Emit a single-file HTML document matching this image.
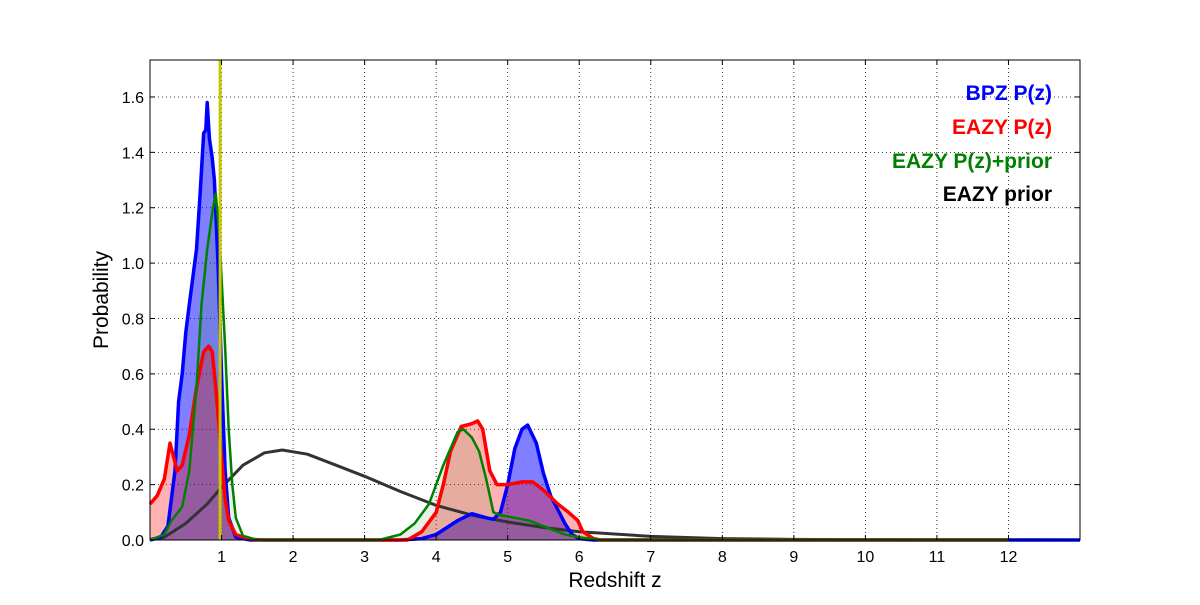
<!DOCTYPE html>
<html><head><meta charset="utf-8"><style>
body{margin:0;background:#fff;}
svg text{font-family:"Liberation Sans","DejaVu Sans",sans-serif;}
</style></head><body>
<svg id="chart" width="1200" height="600" viewBox="0 0 1200 600" xmlns="http://www.w3.org/2000/svg">
<rect width="1200" height="600" fill="#fff"/>
<g id="grid"></g>
<g id="series"></g>
<g id="axes"></g>
<text x="615" y="587" font-size="21" text-anchor="middle">Redshift z</text>
<text transform="translate(108,300) rotate(-90)" font-size="21" text-anchor="middle">Probability</text>
<g font-size="21" font-weight="bold" text-anchor="end">
<text x="1052" y="100" fill="#0000ff">BPZ P(z)</text>
<text x="1052" y="134" fill="#ff0000">EAZY P(z)</text>
<text x="1052" y="168" fill="#008000">EAZY P(z)+prior</text>
<text x="1052" y="201" fill="#000">EAZY prior</text>
</g>
</svg>
<script>
const xTicks=[1,2,3,4,5,6,7,8,9,10,11,12];
const yTicks=[0.0,0.2,0.4,0.6,0.8,1.0,1.2,1.4,1.6];
const bpzZ=[0,0.15,0.25,0.35,0.4,0.45,0.5,0.55,0.6,0.65,0.7,0.75,0.78,0.8,0.83,0.87,0.9,0.95,1.0,1.05,1.1,1.2,1.4,3.5,3.8,4.0,4.3,4.5,4.7,4.8,4.9,5.0,5.1,5.2,5.28,5.4,5.5,5.6,5.7,5.8,5.9,6.0,6.2,13];
const bpzP=[0,0.01,0.05,0.25,0.5,0.6,0.75,0.85,0.95,1.05,1.25,1.47,1.48,1.58,1.45,1.38,1.3,1.0,0.6,0.25,0.08,0.01,0,0,0.005,0.02,0.07,0.095,0.08,0.075,0.1,0.2,0.33,0.4,0.415,0.35,0.24,0.16,0.11,0.06,0.02,0.005,0,0];
const eazyZ=[0,0.1,0.2,0.28,0.33,0.38,0.45,0.55,0.65,0.75,0.82,0.87,0.92,1.0,1.05,1.1,1.2,1.4,1.6,3.6,3.8,4.0,4.1,4.2,4.35,4.5,4.58,4.65,4.75,4.85,5.0,5.2,5.35,5.5,5.7,5.85,5.98,6.05,6.2,6.3,12];
const eazyP=[0.13,0.16,0.22,0.35,0.3,0.25,0.27,0.38,0.55,0.68,0.70,0.68,0.55,0.3,0.15,0.07,0.02,0.002,0,0,0.03,0.1,0.2,0.32,0.41,0.42,0.43,0.4,0.25,0.2,0.2,0.21,0.21,0.18,0.13,0.1,0.07,0.03,0.005,0,0];
const priorCombZ=[0,0.2,0.3,0.45,0.55,0.65,0.72,0.8,0.88,0.92,0.97,1.0,1.05,1.1,1.15,1.2,1.3,1.5,3.2,3.5,3.7,3.9,4.1,4.3,4.38,4.5,4.6,4.7,4.8,4.9,5.1,5.3,5.6,5.8,6.0,6.15,6.3,12];
const priorCombP=[0,0.02,0.07,0.12,0.25,0.55,0.85,1.05,1.2,1.25,1.1,0.95,0.7,0.4,0.2,0.08,0.015,0,0,0.02,0.06,0.13,0.27,0.39,0.4,0.37,0.32,0.22,0.1,0.09,0.08,0.07,0.04,0.02,0.01,0.005,0,0];
const priorZ=[0,0.2,0.5,0.8,1,1.3,1.6,1.85,2.2,2.6,3,3.5,4,4.5,5,5.5,6,7,8,9,10,13];
const priorP=[0,0.01,0.06,0.13,0.19,0.27,0.315,0.325,0.31,0.27,0.23,0.175,0.125,0.09,0.065,0.045,0.03,0.013,0.005,0.002,0.001,0];
const bestZ=0.98;

const X0=150,X1=1080,Y0=540,Y1=60,XMAX=13,YMAX=1.7335;
const sx=z=>X0+(X1-X0)*z/XMAX;
const sy=p=>Y0-(Y0-Y1)*p/YMAX;
const NS='http://www.w3.org/2000/svg';
function mk(tag,attrs,parent){const e=document.createElementNS(NS,tag);for(const k in attrs)e.setAttribute(k,attrs[k]);parent.appendChild(e);return e;}
const grid=document.getElementById('grid'),axes=document.getElementById('axes'),series=document.getElementById('series');
xTicks.forEach(t=>{
 const g=mk('line',{x1:sx(t),x2:sx(t),y1:Y1,y2:Y0,stroke:'#000','stroke-width':0.8,'stroke-dasharray':'1,3'},grid);
 
 
 const a=mk('line',{x1:sx(t),x2:sx(t),y1:Y0,y2:Y0-5,stroke:'#000'},axes);
 
 
 const b=mk('line',{x1:sx(t),x2:sx(t),y1:Y1,y2:Y1+5,stroke:'#000'},axes);
 
 
 const l=mk('text',{x:sx(t),y:Y0+22,'font-size':16,'text-anchor':'middle'},axes);
 l.textContent=t;
 
 
});
yTicks.forEach(t=>{
 if(t>0){const g=mk('line',{x1:X0,x2:X1,y1:sy(t),y2:sy(t),stroke:'#000','stroke-width':0.8,'stroke-dasharray':'1,3'},grid);
 
 }
 const a=mk('line',{x1:X0,x2:X0+5,y1:sy(t),y2:sy(t),stroke:'#000'},axes);
 
 
 const b=mk('line',{x1:X1,x2:X1-5,y1:sy(t),y2:sy(t),stroke:'#000'},axes);
 
 
 const l=mk('text',{x:X0-6,y:sy(t)+6,'font-size':16,'text-anchor':'end'},axes);
 l.textContent=t.toFixed(1);
 
 
});
const fr=mk('rect',{x:X0,y:Y1,width:X1-X0,height:Y0-Y1,fill:'none',stroke:'#000','stroke-width':1},axes);


function pts(zs,ps){return zs.map((z,i)=>sx(z).toFixed(1)+','+sy(ps[i]).toFixed(1)).join(' L');}
function area(zs,ps,fill,name){
 const d='M'+sx(zs[0])+','+Y0+' L'+pts(zs,ps)+' L'+sx(zs[zs.length-1])+','+Y0+' Z';
 const e=mk('path',{d:d,fill:fill,stroke:'none'},series);
 
 
}
function line(zs,ps,col,w,name){
 const e=mk('path',{d:'M'+pts(zs,ps),fill:'none',stroke:col,'stroke-width':w,'stroke-linejoin':'round'},series);
 
 
}
area(bpzZ,bpzP,'rgba(0,0,255,0.5)','bpz-area');
area(eazyZ,eazyP,'rgba(255,0,0,0.3)','eazy-area');
area(priorCombZ,priorCombP,'rgba(0,128,0,0.1)','eazy-prior-combined-area');
line(priorZ,priorP,'#333',3,'eazy-prior-line');
line(bpzZ,bpzP,'#0000ff',3.5,'bpz-line');
line(eazyZ,eazyP,'#ff0000',3.5,'eazy-line');
line(priorCombZ,priorCombP,'#008000',2.5,'eazy-prior-combined-line');
const v=mk('line',{x1:sx(bestZ),x2:sx(bestZ),y1:Y1,y2:Y0,stroke:'#c8c800','stroke-width':3},series);


</script>
</body></html>
